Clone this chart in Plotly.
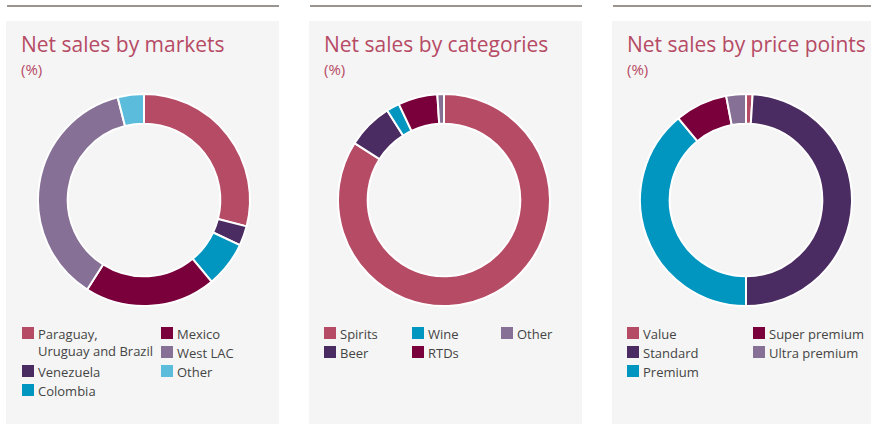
import plotly.graph_objects as go

W, H = 871, 424

# ---- data -------------------------------------------------------------
market_labels = ["Paraguay,<br>Uruguay and Brazil", "Venezuela", "Colombia",
                 "Mexico", "West LAC", "Other"]
market_values = [29, 3, 7, 20, 37, 4]

category_labels = ["Spirits", "Beer", "Wine", "RTDs", "Other"]
category_values = [84, 7, 2, 6, 1]

price_labels = ["Value", "Standard", "Premium", "Super premium", "Ultra premium"]
price_values = [1, 49, 39, 8, 3]

titles = ["Net sales by markets", "Net sales by categories", "Net sales by price points"]
subtitle = "(%)"

# ---- styling ----------------------------------------------------------
ROSE = "#b64b65"
WINE = "#7a003c"
PURPLE = "#4b2c62"
TEAL = "#0096c0"
MAUVE = "#867096"
SKY = "#5bbcdc"

market_colors = [ROSE, PURPLE, TEAL, WINE, MAUVE, SKY]
category_colors = [ROSE, PURPLE, TEAL, WINE, MAUVE]
price_colors = [ROSE, PURPLE, TEAL, WINE, MAUVE]

FONT = "Open Sans"
TEXT = "#444444"
PANEL_BG = "#f5f5f5"
RULE = "#7a706a"

# panel boxes (pixels): left, right
panels = [(6, 279), (309, 582), (612, 871)]
centers = [(144, 200), (444, 200), (746, 200)]
RADIUS = 106
# legend column x-offsets from panel left, and text lines per column
legend_cols = [[16, 155], [15, 103, 192], [15, 141]]
legend_rows = [4, 2, 3]


def px(x):
    return x / W


def py(y):
    return 1 - y / H


fig = go.Figure()
shapes = []
annotations = []

series = [
    (market_labels, market_values, market_colors),
    (category_labels, category_values, category_colors),
    (price_labels, price_values, price_colors),
]

for i, (labels, values, colors) in enumerate(series):
    left, right = panels[i]
    cx, cy = centers[i]

    # panel background and top rule
    shapes.append(dict(type="rect", xref="paper", yref="paper",
                       x0=px(left), x1=px(right), y0=py(H), y1=py(21),
                       fillcolor=PANEL_BG, line=dict(width=0), layer="below"))
    shapes.append(dict(type="line", xref="paper", yref="paper",
                       x0=px(left + 1), x1=px(right), y0=py(6), y1=py(6),
                       line=dict(color=RULE, width=1.5)))

    # titles
    annotations.append(dict(text=titles[i], xref="paper", yref="paper",
                            x=px(left + 13), y=py(28), xanchor="left", yanchor="top",
                            showarrow=False,
                            font=dict(family=FONT, size=21, color=ROSE)))
    annotations.append(dict(text=subtitle, xref="paper", yref="paper",
                            x=px(left + 13), y=py(57), xanchor="left", yanchor="top",
                            showarrow=False,
                            font=dict(family=FONT, size=15, color=ROSE)))

    # donut
    fig.add_trace(go.Pie(
        labels=labels, values=values, sort=False, direction="clockwise",
        rotation=0, hole=0.72, textinfo="none", hoverinfo="label+value",
        marker=dict(colors=colors, line=dict(color="white", width=2)),
        domain=dict(x=[px(cx - RADIUS), px(cx + RADIUS)],
                    y=[py(cy + RADIUS), py(cy - RADIUS)]),
        showlegend=False,
    ))

    # legend laid out column by column
    pitch = 19
    col, line = 0, 0
    for lab, colr in zip(labels, colors):
        nlines = lab.count("<br>") + 1
        if line + nlines > legend_rows[i]:
            col += 1
            line = 0
        x0 = left + legend_cols[i][col]
        yc = 333 + line * pitch
        shapes.append(dict(type="rect", xref="paper", yref="paper",
                           x0=px(x0), x1=px(x0 + 12), y0=py(yc + 6), y1=py(yc - 6),
                           fillcolor=colr, line=dict(width=0)))
        annotations.append(dict(text=lab, xref="paper", yref="paper",
                                x=px(x0 + 14), y=py(yc - 10), xanchor="left",
                                yanchor="top", align="left", showarrow=False,
                                font=dict(family=FONT, size=13, color=TEXT)))
        line += nlines

fig.update_layout(
    width=W, height=H,
    margin=dict(l=0, r=0, t=0, b=0),
    paper_bgcolor="white", plot_bgcolor="white",
    shapes=shapes, annotations=annotations,
)

fig.write_html("out.html")
